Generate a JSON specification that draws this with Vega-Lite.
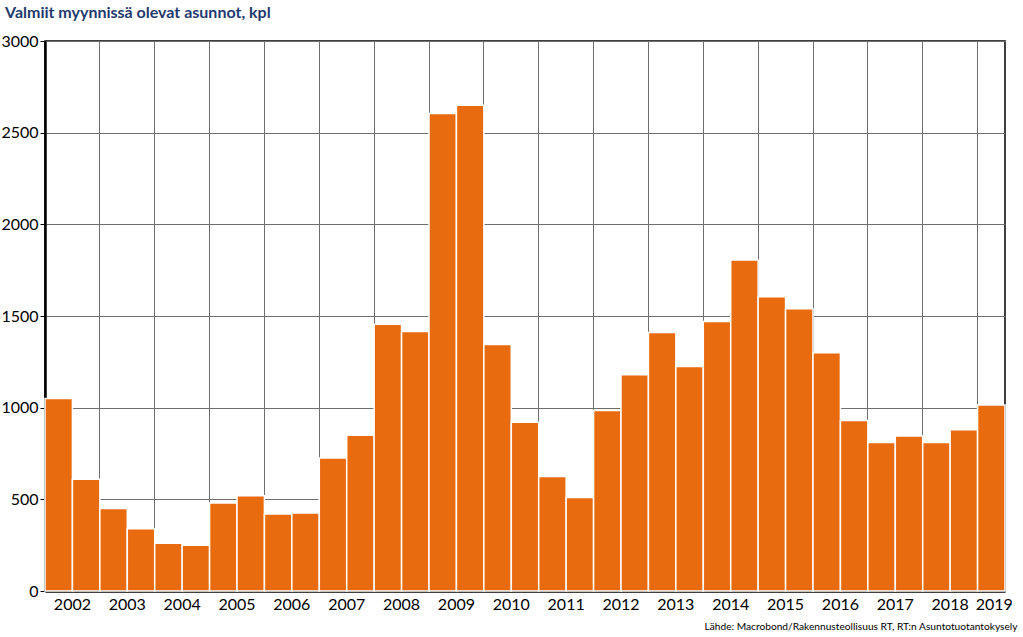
{
  "$schema": "https://vega.github.io/schema/vega-lite/v6.json",
  "width": 960,
  "height": 550,
  "autosize": {"type": "none"},
  "padding": {"left": 45, "top": 41, "right": 18, "bottom": 46},
  "background": "white",
  "title": {
    "text": "Valmiit myynnissä olevat asunnot, kpl",
    "anchor": "start",
    "frame": "group",
    "dx": -40,
    "offset": 12,
    "font": "Lato",
    "fontSize": 16,
    "fontWeight": "bold",
    "color": "#1F3A6E"
  },
  "config": {
    "view": {"stroke": "black", "strokeWidth": 1.5},
    "font": "Lato"
  },
  "data": {
    "values": [
      {"period": "2002-1", "value": 1050}, {"period": "2002-2", "value": 610},
      {"period": "2003-1", "value": 450}, {"period": "2003-2", "value": 340},
      {"period": "2004-1", "value": 260}, {"period": "2004-2", "value": 250},
      {"period": "2005-1", "value": 480}, {"period": "2005-2", "value": 520},
      {"period": "2006-1", "value": 420}, {"period": "2006-2", "value": 425},
      {"period": "2007-1", "value": 725}, {"period": "2007-2", "value": 850},
      {"period": "2008-1", "value": 1455}, {"period": "2008-2", "value": 1415},
      {"period": "2009-1", "value": 2605}, {"period": "2009-2", "value": 2650},
      {"period": "2010-1", "value": 1345}, {"period": "2010-2", "value": 920},
      {"period": "2011-1", "value": 625}, {"period": "2011-2", "value": 510},
      {"period": "2012-1", "value": 985}, {"period": "2012-2", "value": 1180},
      {"period": "2013-1", "value": 1410}, {"period": "2013-2", "value": 1225},
      {"period": "2014-1", "value": 1470}, {"period": "2014-2", "value": 1805},
      {"period": "2015-1", "value": 1605}, {"period": "2015-2", "value": 1540},
      {"period": "2016-1", "value": 1300}, {"period": "2016-2", "value": 930},
      {"period": "2017-1", "value": 810}, {"period": "2017-2", "value": 845},
      {"period": "2018-1", "value": 810}, {"period": "2018-2", "value": 880},
      {"period": "2019-1", "value": 1015}
    ]
  },
  "mark": {"type": "bar", "color": "#E96B10", "stroke": "white", "strokeWidth": 1.5},
  "encoding": {
    "x": {
      "field": "period",
      "type": "ordinal",
      "sort": null,
      "scale": {"paddingInner": 0, "paddingOuter": 0},
      "axis": {
        "values": ["2002-1","2003-1","2004-1","2005-1","2006-1","2007-1","2008-1","2009-1","2010-1","2011-1","2012-1","2013-1","2014-1","2015-1","2016-1","2017-1","2018-1","2019-1"],
        "bandPosition": 0,
        "labelExpr": "slice(datum.value, 0, 4)",
        "labelAngle": 0,
        "labelOffset": {"condition": {"test": "datum.value == '2019-1'", "value": 3}, "value": 13.7},
        "labelFontSize": 16,
        "labelColor": "black",
        "labelPadding": 5,
        "ticks": false,
        "grid": true,
        "gridColor": "#6E6E6E",
        "gridWidth": 1,
        "gridOpacity": 1,
        "domainColor": "black",
        "domainWidth": 2.5,
        "title": "Lähde: Macrobond/Rakennusteollisuus RT, RT:n Asuntotuotantokysely",
        "titleFontSize": 10.2,
        "titleFontWeight": "normal",
        "titleColor": "black",
        "titleAlign": "right",
        "titleX": 972,
        "titleY": 30
      }
    },
    "y": {
      "field": "value",
      "type": "quantitative",
      "scale": {"domain": [0, 3000], "nice": false},
      "axis": {
        "values": [0, 500, 1000, 1500, 2000, 2500, 3000],
        "format": "d",
        "labelFontSize": 16,
        "labelColor": "black",
        "labelPadding": 2,
        "tickSize": 5,
        "tickColor": "black",
        "grid": true,
        "gridColor": "#6E6E6E",
        "gridWidth": 1,
        "gridOpacity": 1,
        "domainColor": "black",
        "domainWidth": 2.5,
        "title": null
      }
    }
  }
}
